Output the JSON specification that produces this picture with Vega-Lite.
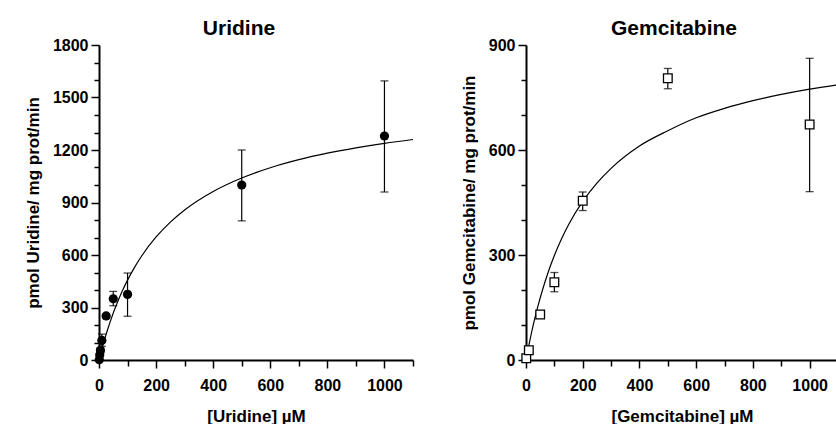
{
  "$schema": "https://vega.github.io/schema/vega-lite/v6.json",
  "padding": {"left": 24, "top": 18, "right": 0, "bottom": 0},
  "spacing": 44,
  "datasets": {
    "uridine": [
      {"conc": 1, "rate": 2, "lo": 0, "hi": 6},
      {"conc": 2.5, "rate": 28, "lo": 20, "hi": 36},
      {"conc": 5, "rate": 55, "lo": 40, "hi": 70},
      {"conc": 10, "rate": 112, "lo": 78, "hi": 148},
      {"conc": 25, "rate": 252, "lo": 240, "hi": 262},
      {"conc": 50, "rate": 350, "lo": 310, "hi": 392},
      {"conc": 100, "rate": 375, "lo": 250, "hi": 497},
      {"conc": 500, "rate": 1000, "lo": 795, "hi": 1200},
      {"conc": 1000, "rate": 1280, "lo": 960, "hi": 1595}
    ],
    "uridineFit": [
      {"conc": 0, "rate": 0}, {"conc": 5, "rate": 31.9}, {"conc": 10, "rate": 62.4},
      {"conc": 20, "rate": 119.9}, {"conc": 30, "rate": 173.1}, {"conc": 40, "rate": 222.4},
      {"conc": 60, "rate": 311.0}, {"conc": 80, "rate": 388.3}, {"conc": 100, "rate": 456.4},
      {"conc": 125, "rate": 530.9}, {"conc": 150, "rate": 595.7}, {"conc": 200, "rate": 703.0},
      {"conc": 250, "rate": 788.1}, {"conc": 300, "rate": 857.4}, {"conc": 400, "rate": 963.1},
      {"conc": 500, "rate": 1040.1}, {"conc": 600, "rate": 1098.7}, {"conc": 700, "rate": 1144.7},
      {"conc": 800, "rate": 1181.8}, {"conc": 900, "rate": 1212.4}, {"conc": 1000, "rate": 1238.1},
      {"conc": 1100, "rate": 1259.9}
    ],
    "gem": [
      {"conc": 1, "rate": 5, "lo": 0, "hi": 10},
      {"conc": 10, "rate": 28, "lo": 18, "hi": 38},
      {"conc": 50, "rate": 130, "lo": 120, "hi": 140},
      {"conc": 100, "rate": 222, "lo": 195, "hi": 250},
      {"conc": 200, "rate": 455, "lo": 427, "hi": 480},
      {"conc": 500, "rate": 805, "lo": 775, "hi": 833},
      {"conc": 1000, "rate": 673, "lo": 481, "hi": 862}
    ],
    "gemFit": [
      {"conc": 0, "rate": 0}, {"conc": 5, "rate": 21.4}, {"conc": 10, "rate": 41.8},
      {"conc": 20, "rate": 80.0}, {"conc": 30, "rate": 115.1}, {"conc": 40, "rate": 147.5},
      {"conc": 60, "rate": 205.1}, {"conc": 80, "rate": 254.9}, {"conc": 100, "rate": 298.4},
      {"conc": 125, "rate": 345.6}, {"conc": 150, "rate": 386.3}, {"conc": 200, "rate": 453.0},
      {"conc": 250, "rate": 505.4}, {"conc": 300, "rate": 547.6}, {"conc": 400, "rate": 611.4},
      {"conc": 500, "rate": 655.0}, {"conc": 600, "rate": 692.0}, {"conc": 700, "rate": 719.1},
      {"conc": 800, "rate": 740.9}, {"conc": 900, "rate": 758.7}, {"conc": 1000, "rate": 773.7},
      {"conc": 1100, "rate": 786.3}
    ]
  },
  "hconcat": [
    {
      "width": 314,
      "height": 315,
      "title": {"text": "Uridine", "dx": -17},
      "layer": [
        {
          "data": {"name": "uridineFit"},
          "mark": {"type": "line", "color": "black", "strokeWidth": 1.2, "interpolate": "monotone"},
          "encoding": {
            "x": {"field": "conc", "type": "quantitative", "scale": {"domain": [0, 1100], "nice": false},
              "axis": {"title": "[Uridine] µM", "format": "d", "values": [0,100,200,300,400,500,600,700,800,900,1000,1100],
                "labelExpr": "datum.value % 200 === 0 && datum.value <= 1000 ? datum.label : ''",
                "tickSize": {"condition": {"test": "datum.value % 200 === 0", "value": 8}, "value": 6}}},
            "y": {"field": "rate", "type": "quantitative", "scale": {"domain": [0, 1800], "nice": false},
              "axis": {"title": "pmol Uridine/ mg prot/min", "format": "d", "values": [0,100,200,300,400,500,600,700,800,900,1000,1100,1200,1300,1400,1500,1600,1700,1800],
                "labelExpr": "datum.value % 300 === 0 ? datum.label : ''",
                "tickSize": {"condition": {"test": "datum.value % 300 === 0", "value": 8}, "value": 5}}}
          }
        },
        {
          "data": {"name": "uridine"},
          "mark": {"type": "errorbar", "ticks": {"size": 8, "thickness": 1.3, "color": "black"}, "rule": {"color": "black", "strokeWidth": 1.2}},
          "encoding": {
            "x": {"field": "conc", "type": "quantitative",
              "axis": {"title": "[Uridine] µM", "format": "d", "values": [0,100,200,300,400,500,600,700,800,900,1000,1100],
                "labelExpr": "datum.value % 200 === 0 && datum.value <= 1000 ? datum.label : ''",
                "tickSize": {"condition": {"test": "datum.value % 200 === 0", "value": 8}, "value": 6}}},
            "y": {"field": "lo", "type": "quantitative",
              "axis": {"title": "pmol Uridine/ mg prot/min", "format": "d", "values": [0,100,200,300,400,500,600,700,800,900,1000,1100,1200,1300,1400,1500,1600,1700,1800],
                "labelExpr": "datum.value % 300 === 0 ? datum.label : ''",
                "tickSize": {"condition": {"test": "datum.value % 300 === 0", "value": 8}, "value": 5}}},
            "y2": {"field": "hi"}
          }
        },
        {
          "data": {"name": "uridine"},
          "mark": {"type": "point", "shape": "circle", "filled": true, "color": "black", "size": 85, "opacity": 1},
          "encoding": {
            "x": {"field": "conc", "type": "quantitative",
              "axis": {"title": "[Uridine] µM", "format": "d", "values": [0,100,200,300,400,500,600,700,800,900,1000,1100],
                "labelExpr": "datum.value % 200 === 0 && datum.value <= 1000 ? datum.label : ''",
                "tickSize": {"condition": {"test": "datum.value % 200 === 0", "value": 8}, "value": 6}}},
            "y": {"field": "rate", "type": "quantitative",
              "axis": {"title": "pmol Uridine/ mg prot/min", "format": "d", "values": [0,100,200,300,400,500,600,700,800,900,1000,1100,1200,1300,1400,1500,1600,1700,1800],
                "labelExpr": "datum.value % 300 === 0 ? datum.label : ''",
                "tickSize": {"condition": {"test": "datum.value % 300 === 0", "value": 8}, "value": 5}}}
          }
        }
      ]
    },
    {
      "width": 312,
      "height": 315,
      "title": {"text": "Gemcitabine", "dx": -8},
      "layer": [
        {
          "data": {"name": "gemFit"},
          "mark": {"type": "line", "color": "black", "strokeWidth": 1.2, "interpolate": "monotone"},
          "encoding": {
            "x": {"field": "conc", "type": "quantitative", "scale": {"domain": [0, 1100], "nice": false},
              "axis": {"title": "[Gemcitabine] µM", "format": "d", "values": [0,100,200,300,400,500,600,700,800,900,1000,1100],
                "labelExpr": "datum.value % 200 === 0 && datum.value <= 1000 ? datum.label : ''",
                "tickSize": {"condition": {"test": "datum.value % 200 === 0", "value": 8}, "value": 6}}},
            "y": {"field": "rate", "type": "quantitative", "scale": {"domain": [0, 900], "nice": false},
              "axis": {"title": "pmol Gemcitabine/ mg prot/min", "format": "d", "values": [0,100,200,300,400,500,600,700,800,900],
                "labelExpr": "datum.value % 300 === 0 ? datum.label : ''",
                "tickSize": {"condition": {"test": "datum.value % 300 === 0", "value": 8}, "value": 5}}}
          }
        },
        {
          "data": {"name": "gem"},
          "mark": {"type": "errorbar", "ticks": {"size": 8, "thickness": 1.3, "color": "black"}, "rule": {"color": "black", "strokeWidth": 1.2}},
          "encoding": {
            "x": {"field": "conc", "type": "quantitative",
              "axis": {"title": "[Gemcitabine] µM", "format": "d", "values": [0,100,200,300,400,500,600,700,800,900,1000,1100],
                "labelExpr": "datum.value % 200 === 0 && datum.value <= 1000 ? datum.label : ''",
                "tickSize": {"condition": {"test": "datum.value % 200 === 0", "value": 8}, "value": 6}}},
            "y": {"field": "lo", "type": "quantitative",
              "axis": {"title": "pmol Gemcitabine/ mg prot/min", "format": "d", "values": [0,100,200,300,400,500,600,700,800,900],
                "labelExpr": "datum.value % 300 === 0 ? datum.label : ''",
                "tickSize": {"condition": {"test": "datum.value % 300 === 0", "value": 8}, "value": 5}}},
            "y2": {"field": "hi"}
          }
        },
        {
          "data": {"name": "gem"},
          "mark": {"type": "point", "shape": "square", "filled": false, "fill": "white", "stroke": "black", "strokeWidth": 1.3, "size": 75, "opacity": 1},
          "encoding": {
            "x": {"field": "conc", "type": "quantitative",
              "axis": {"title": "[Gemcitabine] µM", "format": "d", "values": [0,100,200,300,400,500,600,700,800,900,1000,1100],
                "labelExpr": "datum.value % 200 === 0 && datum.value <= 1000 ? datum.label : ''",
                "tickSize": {"condition": {"test": "datum.value % 200 === 0", "value": 8}, "value": 6}}},
            "y": {"field": "rate", "type": "quantitative",
              "axis": {"title": "pmol Gemcitabine/ mg prot/min", "format": "d", "values": [0,100,200,300,400,500,600,700,800,900],
                "labelExpr": "datum.value % 300 === 0 ? datum.label : ''",
                "tickSize": {"condition": {"test": "datum.value % 300 === 0", "value": 8}, "value": 5}}}
          }
        }
      ]
    }
  ],
  "config": {
    "font": "Liberation Sans",
    "view": {"stroke": null},
    "title": {"font": "Liberation Sans", "fontSize": 21, "fontWeight": "bold", "color": "black", "anchor": "middle", "frame": "group", "offset": -2},
    "axis": {
      "grid": false,
      "domainColor": "black",
      "domainWidth": 2,
      "tickColor": "black",
      "tickWidth": 1.5,
      "labelFont": "Liberation Sans",
      "labelFontSize": 16,
      "labelFontWeight": "bold",
      "labelColor": "black",
      "labelFlush": false,
      "labelOverlap": false,
      "titleFont": "Liberation Sans",
      "titleFontSize": 17,
      "titleFontWeight": "bold",
      "titleColor": "black"
    },
    "axisX": {"labelPadding": 9, "titlePadding": 15},
    "axisY": {"labelPadding": 3, "titlePadding": 10}
  }
}
